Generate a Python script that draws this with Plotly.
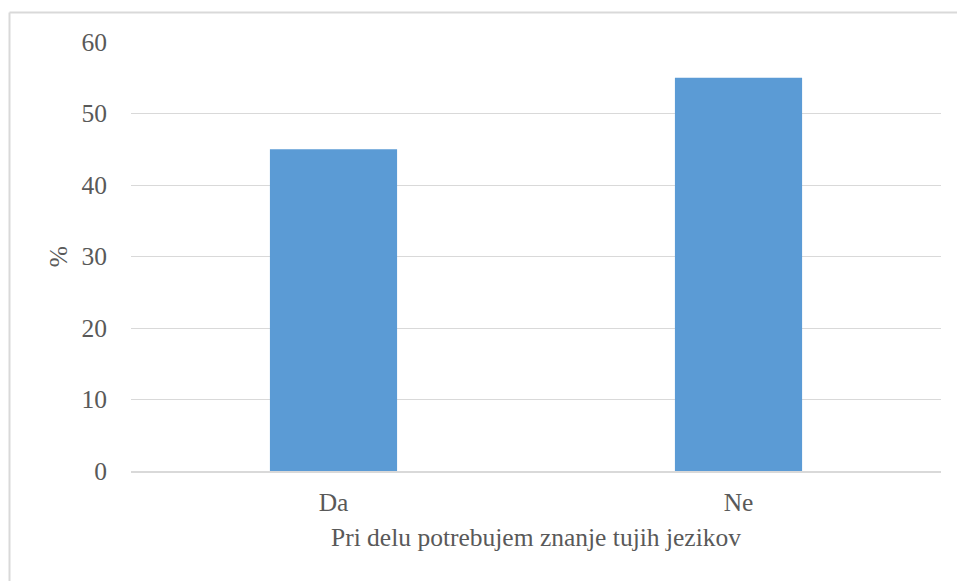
import plotly.graph_objects as go

categories = ["Da", "Ne"]
values = [45, 55]
y_ticks = [0, 10, 20, 30, 40, 50, 60]

W, H = 957, 581
ml, mr, mt, mb = 131, 16, 42, 110
pw, ph = W - ml - mr, H - mt - mb

def px_x(p):
    return (p - ml) / pw

def px_y(p):
    return (H - mb - p) / ph

font_family = "Liberation Serif"
font_size = 25.5
text_color = "#595959"

fig = go.Figure(go.Bar(
    x=categories, y=values,
    marker=dict(color="#5B9BD5", line=dict(width=0)),
    hoverinfo="skip",
))

fig.update_layout(
    width=W, height=H,
    margin=dict(l=ml, r=mr, t=mt, b=mb),
    paper_bgcolor="white", plot_bgcolor="white",
    bargap=0.686,
    showlegend=False,
    font=dict(family=font_family, color=text_color, size=font_size),
    xaxis=dict(
        showgrid=False, showline=True, linecolor="#D9D9D9", linewidth=2,
        ticks="", ticklabelstandoff=7,
        tickfont=dict(family=font_family, size=font_size, color=text_color),
        title=dict(text="Pri delu potrebujem znanje tujih jezikov",
                   font=dict(family=font_family, size=font_size, color=text_color), standoff=13),
    ),
    yaxis=dict(
        range=[0, 60], tickvals=y_ticks,
        showgrid=True, gridcolor="#D9D9D9", gridwidth=1.3,
        zeroline=False, showline=False, ticks="",
        ticklabelstandoff=23,
        tickfont=dict(family=font_family, size=font_size, color=text_color),
        title=dict(text="%", font=dict(family=font_family, size=font_size, color=text_color), standoff=6),
    ),
    shapes=[
        dict(type="line", xref="paper", yref="paper",
             x0=px_x(9.5), x1=px_x(9.5), y0=px_y(12.5), y1=px_y(590),
             line=dict(color="#D9D9D9", width=2), layer="below"),
        dict(type="line", xref="paper", yref="paper",
             x0=px_x(9.5), x1=px_x(965), y0=px_y(12.5), y1=px_y(12.5),
             line=dict(color="#D9D9D9", width=2), layer="below"),
    ],
)

fig.write_html("out.html", config={"displayModeBar": False},
               post_script="document.body.style.margin='0';document.body.style.overflow='hidden';")
